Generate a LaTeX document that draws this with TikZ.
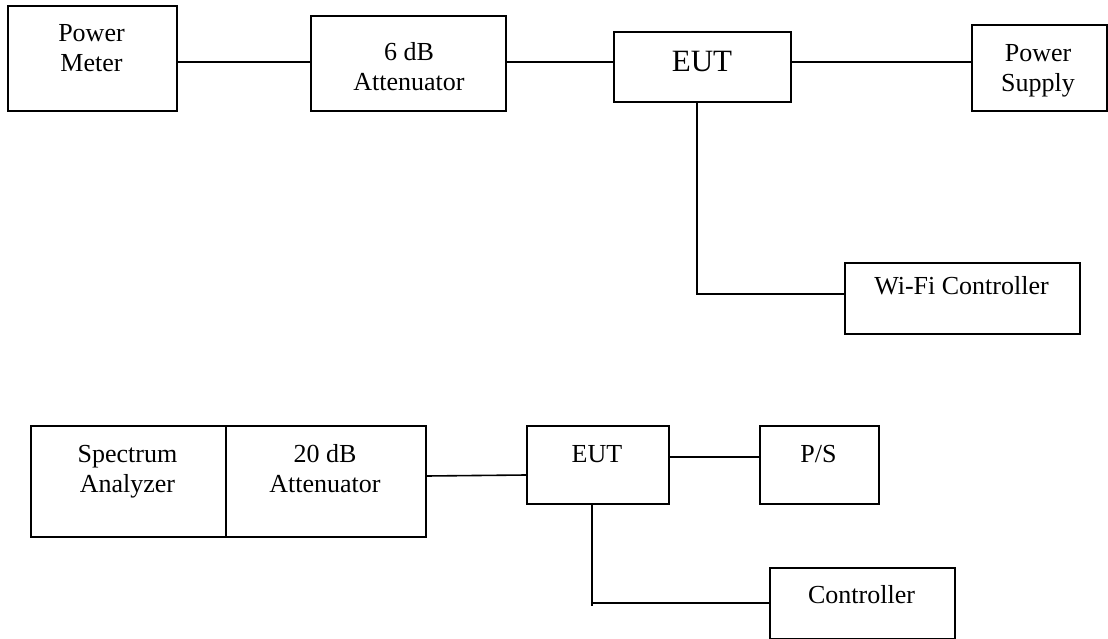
\documentclass[tikz,border=0pt]{standalone}
\usepackage{fontspec}
\setmainfont{Liberation Serif}
\begin{document}
\begin{tikzpicture}[x=1pt,y=-1pt,
  box/.style={draw, line width=1.6pt, inner sep=0pt, anchor=north west},
  txt/.style={font=\fontsize{26}{30}\selectfont, align=center, anchor=base, inner sep=0pt},
  wire/.style={line width=1.6pt}]
\useasboundingbox (0,0) rectangle (1108,639);
% top diagram
\node[box, minimum width=169pt, minimum height=105pt] (pm) at (7,5) {};
\node[box, minimum width=195pt, minimum height=95pt] (att) at (310,15) {};
\node[box, minimum width=177pt, minimum height=70pt] (eut) at (613,31) {};
\node[box, minimum width=135pt, minimum height=86pt] (ps) at (971,24) {};
\node[box, minimum width=235pt, minimum height=71pt] (wifi) at (844,262) {};
\node[txt] (tpm) at (91.5,72) {Power\\Meter};
\node[txt] (tatt) at (409,91) {6 dB\\Attenuator};
\node[txt, font=\fontsize{31}{36}\selectfont] (teut) at (702,72) {EUT};
\node[txt] (tps) at (1038,92) {Power\\Supply};
\node[txt] (twifi) at (961.5,294) {Wi-Fi Controller};
\draw[wire] (pm.east |- 0,62) -- (att.west |- 0,62);
\draw[wire] (att.east |- 0,62) -- (eut.west |- 0,62);
\draw[wire] (eut.east |- 0,62) -- (ps.west |- 0,62);
\coordinate (bend1) at (697,294);
\draw[wire] (eut.south -| bend1) -- (bend1) -- (wifi.west |- bend1);
% bottom diagram
\node[box, minimum width=195pt, minimum height=111pt] (sa) at (30,425) {};
\node[box, minimum width=200pt, minimum height=111pt] (att2) at (225,425) {};
\node[box, minimum width=142pt, minimum height=78pt] (eut2) at (526,425) {};
\node[box, minimum width=119pt, minimum height=78pt] (psb) at (759,425) {};
\node[box, minimum width=185pt, minimum height=71pt] (ctl) at (769,567) {};
\node[txt] (tsa) at (127.5,492) {Spectrum\\Analyzer};
\node[txt] (tatt2) at (325,492) {20 dB\\Attenuator};
\node[txt] (teut2) at (597,462) {EUT};
\node[txt] (tpsb) at (818.5,462) {P/S};
\node[txt] (tctl) at (861.5,603) {Controller};
\draw[wire] (att2.east |- 0,476) -- (eut2.west |- 0,475);
\draw[wire] (eut2.east |- 0,457) -- (psb.west |- 0,457);
\coordinate (stub) at (592,606);
\draw[wire] (eut2.south -| stub) -- (stub);
\draw[wire] (stub |- 0,603) -- (ctl.west |- 0,603);
\end{tikzpicture}
\end{document}
